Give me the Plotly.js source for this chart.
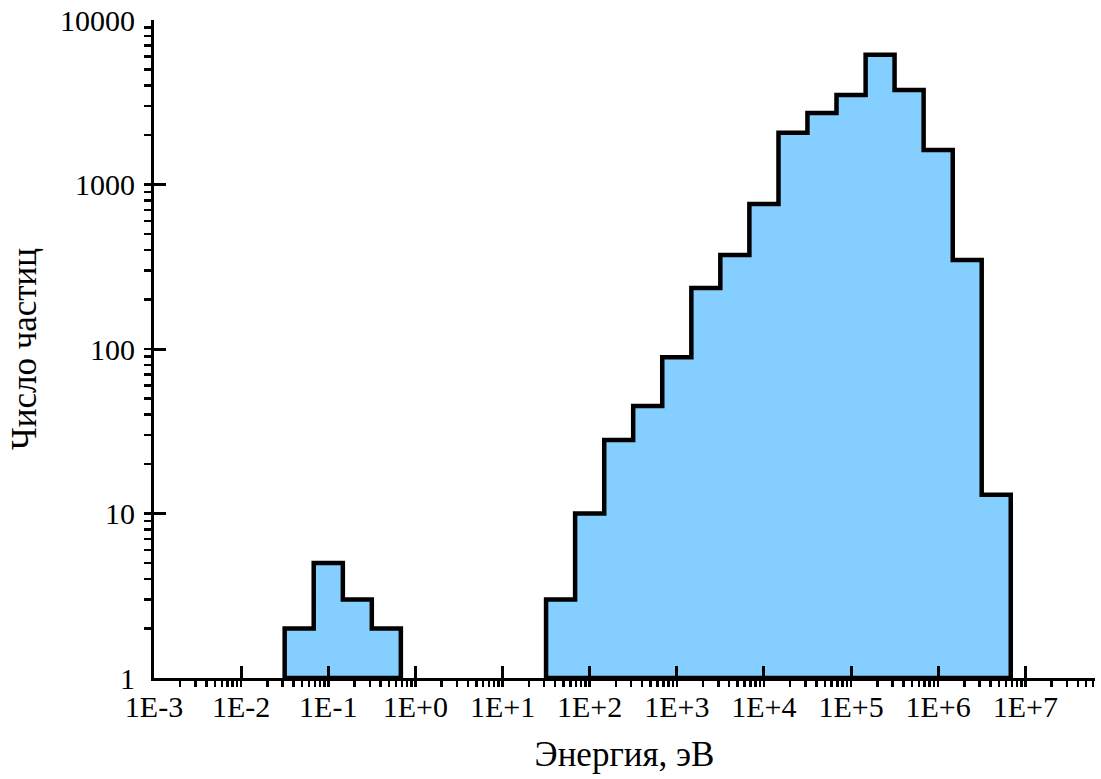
<!DOCTYPE html>
<html>
<head>
<meta charset="utf-8">
<script src="https://cdn.plot.ly/plotly-3.0.1.min.js"></script>
<style>
  html, body { margin: 0; padding: 0; background: #ffffff; }
  #chart { width: 1101px; height: 779px; }
</style>
</head>
<body>
<div id="chart"></div>
<script>
// Energy spectrum of particles: histogram bins on a logarithmic energy scale (eV)
const lowEdges  = [0.0316, 0.0681, 0.147, 0.316, 0.681];
const lowCounts = [2, 5, 3, 2];

const highEdges  = [31.6, 68.1, 147, 316, 681, 1470, 3160, 6810, 14700, 31600,
                    68100, 147000, 316000, 681000, 1470000, 3160000, 6810000];
const highCounts = [3, 10, 28, 45, 89, 235, 373, 761, 2060, 2720,
                    3500, 6150, 3750, 1620, 348, 13];

const xTickVals = [1e-3, 1e-2, 1e-1, 1, 10, 100, 1e3, 1e4, 1e5, 1e6, 1e7];
const xTickText = ['1E-3', '1E-2', '1E-1', '1E+0', '1E+1', '1E+2', '1E+3', '1E+4', '1E+5', '1E+6', '1E+7'];
const yTickVals = [1, 10, 100, 1000, 10000];
const yTickText = ['1', '10', '100', '1000', '10000'];

const baseline = 1;

// Closed step outline of a group of adjacent bins, resting on the baseline
function stepOutline(edges, counts) {
  const x = [edges[0]], y = [baseline];
  counts.forEach((c, i) => {
    x.push(edges[i], edges[i + 1]);
    y.push(c, c);
  });
  x.push(edges[edges.length - 1], edges[0]);
  y.push(baseline, baseline);
  return { x, y };
}

const fillColor = 'rgb(132,207,255)';
function histTrace(edges, counts) {
  const p = stepOutline(edges, counts);
  return {
    type: 'scatter', mode: 'lines', x: p.x, y: p.y,
    fill: 'toself', fillcolor: fillColor,
    line: { color: '#000000', width: 4.5, shape: 'linear' },
    hoverinfo: 'skip', showlegend: false
  };
}

const family = '"Liberation Serif", "Times New Roman", serif';
const tickFont = { family: family, size: 30, color: '#000000' };
const titleFont = { family: family, size: 35, color: '#000000' };

const layout = {
  width: 1101, height: 779,
  margin: { l: 154, r: 6, t: 20, b: 101 },
  paper_bgcolor: '#ffffff', plot_bgcolor: '#ffffff',
  font: tickFont,
  showlegend: false,
  xaxis: {
    type: 'log', range: [-3, 7.8], autorange: false,
    showgrid: false, zeroline: false,
    showline: true, linecolor: '#000000', linewidth: 3,
    ticks: 'inside', ticklen: 12, tickwidth: 3, tickcolor: '#000000',
    tickvals: xTickVals, ticktext: xTickText,
    tickfont: tickFont,
    minor: { ticks: 'outside', ticklen: 6, tickwidth: 2.5, tickcolor: '#000000', dtick: 'D1', showgrid: false },
    title: { text: 'Энергия, эВ', font: titleFont, standoff: 20 },
    automargin: false
  },
  yaxis: {
    type: 'log', range: [0, 4], autorange: false,
    showgrid: false, zeroline: false,
    showline: true, linecolor: '#000000', linewidth: 3,
    ticks: 'inside', ticklen: 12, tickwidth: 3, tickcolor: '#000000',
    tickvals: yTickVals, ticktext: yTickText,
    tickfont: tickFont, ticklabelstandoff: 10,
    minor: { ticks: 'outside', ticklen: 7, tickwidth: 2.5, tickcolor: '#000000', dtick: 'D1', showgrid: false },
    title: { text: 'Число частиц', font: titleFont, standoff: 13 },
    automargin: false
  }
};

Plotly.newPlot('chart', [histTrace(lowEdges, lowCounts), histTrace(highEdges, highCounts)], layout,
  { displayModeBar: false, staticPlot: true });
</script>
</body>
</html>
